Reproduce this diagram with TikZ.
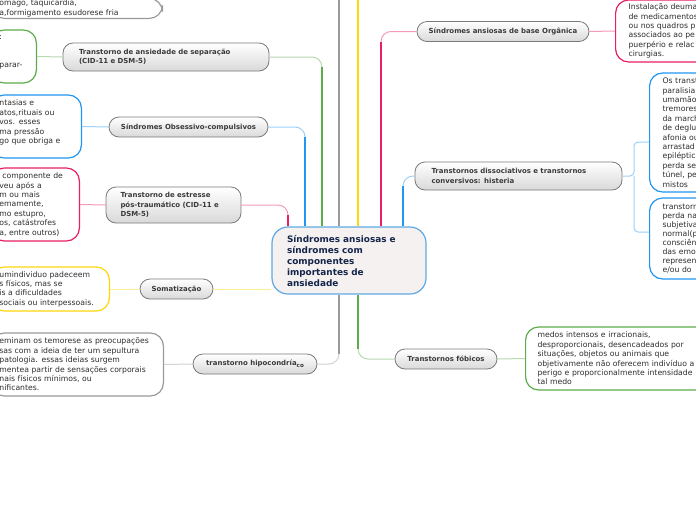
\documentclass[tikz,border=0pt]{standalone}
\usepackage{fontspec}
\setmainfont{DejaVu Sans}
\usetikzlibrary{calc}
\definecolor{brpink}{HTML}{E91E63}
\definecolor{brblue}{HTML}{2196F3}
\definecolor{brgreen}{HTML}{5CAD4A}
\definecolor{brgray}{HTML}{9A9A9A}
\definecolor{bryellow}{HTML}{FFD60A}
\definecolor{pillline}{HTML}{7A7A7A}
\definecolor{pillfill}{HTML}{D9D9D9}
\definecolor{pilltext}{HTML}{3A3A3A}
\definecolor{hubfill}{HTML}{F5F1F1}
\definecolor{hubline}{HTML}{5FAAE3}
\definecolor{hubtext}{HTML}{14254A}
\definecolor{leaftext}{HTML}{2E2E2E}

\begin{document}
\begin{tikzpicture}[x=1pt,y=-1pt,
  hub/.style={draw=hubline,line width=1.2pt,fill=hubfill,rounded corners=16pt,
    font=\bfseries\fontsize{8.9}{11}\selectfont,text=hubtext,align=left,
    text width=124pt,inner xsep=15pt,minimum height=67pt},
  pill/.style={draw=pillline,line width=0.8pt,rounded corners=10pt,top color=white,
    bottom color=pillfill,font=\bfseries\fontsize{6.95}{9.2}\selectfont,text=pilltext,
    inner ysep=0pt,minimum height=20pt},
  leaf/.style={draw=#1,line width=1.2pt,fill=white,rounded corners=13pt,
    font=\fontsize{7.7}{9.4}\selectfont,text=leaftext,align=left,inner ysep=0pt},
  trunk/.style={draw=#1,line width=2.6pt},
  twig/.style={draw=#1!45,line width=1pt,rounded corners=10pt}]

\fill[white] (0,0) rectangle (696,520);
\useasboundingbox (0,0) rectangle (696,520);

% centre
\node[hub] (ctr) at (349,260.5) {Síndromes ansiosas e\\síndromes com\\componentes\\importantes de\\ansiedade};

% topics
\node[pill,align=left,text width=174pt,inner xsep=16pt,minimum height=28pt] (sep) at (166,57)
  {Transtorno de ansiedade de separação\\(CID-11 e DSM-5)};
\node[pill,minimum width=159pt] (oc) at (188.5,127) {Síndromes Obsessivo-compulsivos};
\node[pill,align=left,text width=106pt,inner xsep=14.5pt,minimum height=36pt] (ptsd) at (173.5,205)
  {Transtorno de estresse\\pós-traumático (CID-11 e\\DSM-5)};
\node[pill,minimum width=73pt] (soma) at (176.5,289) {Somatização};
\node[pill,minimum width=124pt] (hypo) at (255,364)
  {transtorno hipocondría\raisebox{-1.5pt}{\fontsize{5.6}{6}\selectfont co}};
\node[pill,minimum width=172pt] (org) at (503,31.5) {Síndromes ansiosas de base Orgânica};
\node[pill,align=left,text width=174pt,inner xsep=16.5pt,minimum height=28pt] (diss) at (518.5,176)
  {Transtornos dissociativos e transtornos\\conversivos: histeria};
\node[pill,minimum width=102pt] (fob) at (446,359) {Transtornos fóbicos};

% leaves, left
\node[leaf=brgray,anchor=south east,text width=155pt,inner xsep=8pt,inner ysep=1.5pt] (topLeaf) at (163,19)
  {omago, taquicardia,\\a,formigamento esudorese fria};
\node[leaf=brgreen,anchor=east,text width=29pt,inner xsep=8pt,minimum height=53pt] (sepLeaf) at (37,56.5)
  {:\\\mbox{}\\\mbox{}\\parar-\\\mbox{}};
\node[leaf=brblue,anchor=east,text width=74pt,inner xsep=8pt,minimum height=63pt] (ocLeaf) at (82,126.5)
  {ntasias e\\atos,rituais ou\\vos. esses\\ma pressão\\go que obriga e\\\mbox{}};
\node[leaf=brpink,anchor=east,text width=72pt,inner xsep=8pt,minimum height=73pt] (ptsdLeaf) at (80,204.5)
  {\hspace*{3pt}componente de\\veu após a\\m ou mais\\emamente,\\mo estupro,\\os, catástrofes\\a, entre outros)};
\node[leaf=bryellow,anchor=east,text width=102pt,inner xsep=8pt,minimum height=44pt] (somaLeaf) at (110,289)
  {umindividuo padeceem\\s físicos, mas se\\is a dificuldades\\sociais ou interpessoais.};
\node[leaf=brgray,anchor=east,text width=156pt,inner xsep=8pt,minimum height=63pt] (hypoLeaf) at (164,364.5)
  {eminam os temorese as preocupações\\sas com a ideia de ter um sepultura\\patologia. essas ideias surgem\\mentea partir de sensações corporais\\nais físicos mínimos, ou\\nificantes.};

% leaves, right
\node[leaf=brpink,anchor=west,text width=100pt,inner xsep=13pt,minimum height=62pt] (orgLeaf) at (615,31)
  {Instalação deuma\\de medicamentos\\ou nos quadros p\\associados ao pe\\puerpério e relac\\cirurgias.};
\node[leaf=brblue,anchor=west,text width=80pt,inner xsep=13pt,minimum height=119pt] (dissLeafA) at (649,132.5)
  {Os transt\\paralisia\\umamão\\tremores\\da march\\de deglu\\afonia ou\\arrastad\\epiléptic\\perda se\\túnel, pe\\mistos};
\node[leaf=brblue,anchor=west,text width=80pt,inner xsep=13pt,minimum height=81pt,
  font=\fontsize{7.7}{9}\selectfont] (dissLeafB) at (649,238.5)
  {transtorn\\perda na\\subjetiva\\normal(p\\consciên\\das emo\\represen\\e/ou do};
\node[leaf=brgreen,anchor=west,text width=220pt,inner xsep=12pt,minimum height=63pt] (fobLeaf) at (525,358.5)
  {medos intensos e irracionais,\\desproporcionais, desencadeados por\\situações, objetos ou animais que\\objetivamente não oferecem indivíduo a\\perigo e proporcionalmente intensidade\\tal medo};

% bends
\coordinate (kSep) at (322,57);
\coordinate (kOC) at (305,127);
\coordinate (kPT) at (288,205);
\coordinate (kOrg) at (381,31.5);
\coordinate (kDis) at (403,176);
\coordinate (kHyp) at (339,364);
\coordinate (kFob) at (358,359);
\coordinate (offGray) at (339,-5);
\coordinate (offYellow) at (358,-5);
\coordinate (kFork) at (634,176);

% branches
\draw[twig=brgreen] (ctr.north -| kSep) |- (sep.east);
\draw[twig=brblue] (ctr.north -| kOC) |- (oc.east);
\draw[twig=brpink] (ctr.north -| kPT) |- (ptsd.east);
\draw[twig=brpink] (ctr.north -| kOrg) |- (org.west);
\draw[twig=brblue] (ctr.north -| kDis) |- (diss.west);
\draw[twig=brgray] (ctr.south -| kHyp) |- (hypo.east);
\draw[twig=brgreen] (ctr.south -| kFob) |- (fob.west);
\draw[twig=bryellow] (soma.east) -- (soma.east -| ctr.west);

\draw[trunk=brgreen] (ctr.north -| kSep) -- ($(kSep)+(0,10)$);
\draw[trunk=brblue] (ctr.north -| kOC) -- ($(kOC)+(0,10)$);
\draw[trunk=brpink] (ctr.north -| kPT) -- ($(kPT)+(0,10)$);
\draw[trunk=brpink] (ctr.north -| kOrg) -- ($(kOrg)+(0,10)$);
\draw[trunk=brblue] (ctr.north -| kDis) -- ($(kDis)+(0,10)$);
\draw[trunk=brgray] (ctr.north -| offGray) -- (offGray);
\draw[trunk=bryellow] (ctr.north -| offYellow) -- (offYellow);
\draw[trunk=brgray] (ctr.south -| kHyp) -- ($(kHyp)+(0,-10)$);
\draw[trunk=brgreen] (ctr.south -| kFob) -- ($(kFob)+(0,-10)$);

% leaf links
\draw[twig=brgreen] (sepLeaf.east) -- (sep.west);
\draw[twig=brblue] (ocLeaf.east) -- (oc.west);
\draw[twig=brpink] (ptsdLeaf.east) -- (ptsd.west);
\draw[twig=bryellow] (somaLeaf.east) -- (soma.west);
\draw[twig=brgray] (hypoLeaf.east) -- (hypo.west);
\draw[twig=brpink] (org.east) -- (orgLeaf.west);
\draw[twig=brgreen] (fob.east) -- (fobLeaf.west);
\draw[twig=brblue,rounded corners=4pt] (diss.east) -- (kFork) |- ([yshift=-9.5pt]dissLeafA.west);
\draw[twig=brblue,rounded corners=4pt] (kFork) |- ([yshift=6.5pt]dissLeafB.west);
\end{tikzpicture}
\end{document}
